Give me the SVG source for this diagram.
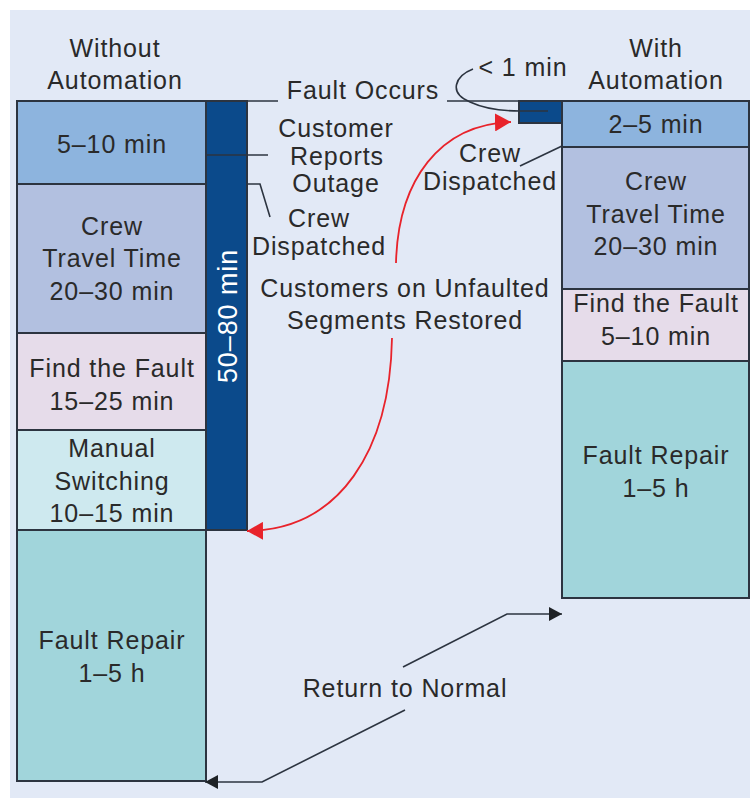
<svg xmlns="http://www.w3.org/2000/svg" width="750" height="798" viewBox="0 0 750 798">
<defs>
<style>
text{font-family:"Liberation Sans",Arial,sans-serif;font-size:25px;fill:#2a2a2a;text-anchor:middle;letter-spacing:0.9px}
.blk{stroke:#2c3440;stroke-width:2}
.ln{fill:none;stroke:#2c3440;stroke-width:1.6}
.red{fill:none;stroke:#e8232b;stroke-width:1.8}
.w{fill:#ffffff;font-size:27px}
</style>
<marker id="ah-red" viewBox="0 0 16 18" refX="16" refY="9" markerWidth="16" markerHeight="18" markerUnits="userSpaceOnUse" orient="auto"><path d="M0,0 L16,9 L0,18 z" fill="#e8232b"/></marker>
<marker id="ah-blk" viewBox="0 0 13 14" refX="13" refY="7" markerWidth="13" markerHeight="14" markerUnits="userSpaceOnUse" orient="auto"><path d="M0,0 L13,7 L0,14 z" fill="#1e2226"/></marker>
</defs>
<rect x="10" y="10" width="740" height="788" fill="#e2e9f6"/>

<g id="hdr-left"><text x="115" y="57">Without</text><text x="115" y="89">Automation</text></g>
<g id="hdr-right"><text x="656" y="57">With</text><text x="656" y="89">Automation</text></g>

<g id="l-detect"><rect class="blk" x="17" y="101" width="189" height="83" fill="#8db4de"/><text x="112" y="153">5–10 min</text></g>
<g id="l-travel"><rect class="blk" x="17" y="184" width="189" height="149" fill="#b2c0e0"/><text x="112" y="235">Crew</text><text x="112" y="267">Travel Time</text><text x="112" y="300">20–30 min</text></g>
<g id="l-find"><rect class="blk" x="17" y="333" width="189" height="97" fill="#e6dcea"/><text x="112" y="377">Find the Fault</text><text x="112" y="410">15–25 min</text></g>
<g id="l-switch"><rect class="blk" x="17" y="430" width="189" height="100" fill="#cee9ef"/><text x="112" y="457">Manual</text><text x="112" y="490">Switching</text><text x="112" y="522">10–15 min</text></g>
<g id="l-repair"><rect class="blk" x="17" y="530" width="189" height="251" fill="#a1d5db"/><text x="112" y="649">Fault Repair</text><text x="112" y="682">1–5 h</text></g>
<g id="l-bar"><rect class="blk" x="206" y="101" width="41" height="429" fill="#0b4a8b"/><text class="w" transform="translate(237,316) rotate(-90)">50–80 min</text></g>

<g id="r-box"><rect class="blk" x="519" y="101" width="43" height="22" fill="#0b4a8b"/></g>
<g id="r-detect"><rect class="blk" x="562" y="101" width="187" height="46" fill="#8db4de"/><text x="656" y="133">2–5 min</text></g>
<g id="r-travel"><rect class="blk" x="562" y="147" width="187" height="142" fill="#b2c0e0"/><text x="656" y="190">Crew</text><text x="656" y="223">Travel Time</text><text x="656" y="255">20–30 min</text></g>
<g id="r-find"><rect class="blk" x="562" y="289" width="187" height="72" fill="#e6dcea"/><text x="656" y="312">Find the Fault</text><text x="656" y="345">5–10 min</text></g>
<g id="r-repair"><rect class="blk" x="562" y="361" width="187" height="237" fill="#a1d5db"/><text x="656" y="464">Fault Repair</text><text x="656" y="497">1–5 h</text></g>

<g id="lbl-fault"><text x="363" y="99">Fault Occurs</text></g>
<g id="lbl-reports"><text x="336" y="137">Customer</text><text x="337" y="165">Reports</text><text x="336" y="192">Outage</text></g>
<g id="lbl-disp-l"><text x="319" y="227">Crew</text><text x="319" y="255">Dispatched</text></g>
<g id="lbl-disp-r"><text x="490" y="162">Crew</text><text x="490" y="190">Dispatched</text></g>
<g id="lbl-restored"><text x="405" y="297">Customers on Unfaulted</text><text x="405" y="329">Segments Restored</text></g>
<g id="lbl-1min"><text x="523" y="76">&lt; 1 min</text></g>
<g id="lbl-return"><text x="405" y="697">Return to Normal</text></g>

<g id="connectors">
<path class="ln" d="M247,101 L278,101 M447,101 L519,101"/>
<path class="ln" d="M206,155 L268,155"/>
<path class="ln" d="M247,184 L260,184 L270,217"/>
<path class="ln" d="M520,166 L562,146"/>
<path class="ln" d="M473,69 C455,76 448,93 470,102 C485,109 505,111 520,111 L548,111"/>
<path class="red" d="M396,263 C398,180 440,124 511,122" marker-end="url(#ah-red)"/>
<path class="red" d="M392,338 C390,450 340,530 247,531" marker-end="url(#ah-red)"/>
<path class="ln" d="M403,667 L507,614 L562,614" marker-end="url(#ah-blk)"/>
<path class="ln" d="M405,710 L262,782 L205,782" marker-end="url(#ah-blk)"/>
</g>
</svg>
